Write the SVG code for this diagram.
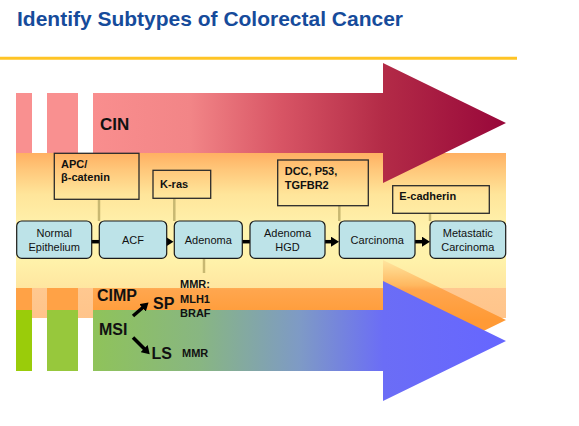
<svg xmlns="http://www.w3.org/2000/svg" width="579" height="426" viewBox="0 0 579 426">
<style>
.t{font-family:"Liberation Sans",Arial,sans-serif;fill:#111}
.b{font-weight:bold}
.box{fill:#BDE3E8;stroke:#1a1a1a;stroke-width:1.2}
.lbl{fill:none;stroke:#2a2a2a;stroke-width:1.3}
.tan{stroke:#C8B872;stroke-width:2.5;fill:none}
.arr{stroke:#000;stroke-width:3.5;fill:none;marker-end:url(#ah)}
.nt{font-size:11px;text-anchor:middle}
.lt{font-size:11px;font-weight:bold}
</style>
<defs>
<marker id="ah" markerWidth="9" markerHeight="10" refX="2" refY="5" orient="auto" markerUnits="userSpaceOnUse"><path d="M0,0 L8,5 L0,10 Z" fill="#000"/></marker>
<linearGradient id="gCin" gradientUnits="userSpaceOnUse" x1="93" y1="0" x2="506" y2="0">
<stop offset="0" stop-color="#F98E8E"/><stop offset="0.235" stop-color="#F28587"/><stop offset="0.453" stop-color="#D85565"/><stop offset="0.702" stop-color="#B32B47"/><stop offset="1" stop-color="#98073A"/>
</linearGradient>
<linearGradient id="gMsi" gradientUnits="userSpaceOnUse" x1="16" y1="0" x2="506" y2="0">
<stop offset="0" stop-color="#9ACC08"/><stop offset="0.157" stop-color="#8FC35A"/><stop offset="0.376" stop-color="#88B682"/><stop offset="0.58" stop-color="#7E9AC6"/><stop offset="0.75" stop-color="#6B6DF6"/><stop offset="1" stop-color="#6666FF"/>
</linearGradient>
<linearGradient id="gBg" gradientUnits="userSpaceOnUse" x1="0" y1="153" x2="0" y2="318">
<stop offset="0" stop-color="#FFB062"/><stop offset="0.1" stop-color="#FFC77A"/><stop offset="0.25" stop-color="#FFE59A"/><stop offset="0.47" stop-color="#FFF3AE"/><stop offset="0.65" stop-color="#FFF2AA"/><stop offset="0.817" stop-color="#FFE6A0"/><stop offset="0.818" stop-color="#FFC890"/><stop offset="1" stop-color="#FFC48A"/>
</linearGradient>
<linearGradient id="gCimp" gradientUnits="userSpaceOnUse" x1="0" y1="260" x2="0" y2="320">
<stop offset="0" stop-color="#FFE6A0"/><stop offset="0.42" stop-color="#FFB860"/><stop offset="0.5" stop-color="#FFA64E"/><stop offset="1" stop-color="#FF9A35"/>
</linearGradient>
</defs>
<rect width="579" height="426" fill="#fff"/>
<text class="t b" x="17" y="26" font-size="21" textLength="386" lengthAdjust="spacingAndGlyphs" style="fill:#164B9B">Identify Subtypes of Colorectal Cancer</text>
<line x1="0" y1="58.3" x2="517" y2="58.3" stroke="#FFC425" stroke-width="3"/>

<g id="background">
<rect x="16" y="153" width="490" height="165" fill="url(#gBg)"/>
</g>
<g id="cin-arrow">
<rect x="16" y="93" width="16" height="60" fill="#F99090"/>
<rect x="47" y="93" width="31" height="60" fill="#F99090"/>
<path d="M93,93 H383 V63 L506,123 L383,183 V153 H93 Z" fill="url(#gCin)"/>
<text class="t b" x="100" y="130" font-size="17">CIN</text>
</g>
<g id="cimp-arrow">
<rect x="16" y="288" width="16" height="62" fill="#FFA246"/>
<rect x="47" y="288" width="31" height="62" fill="#FFA246"/>
<path d="M93,288 H383 V260 L506,320 L383,380 V350 H93 Z" fill="url(#gCimp)"/>
<text class="t b" x="97" y="301" font-size="16">CIMP</text>
</g>
<g id="msi-arrow">
<rect x="16" y="310" width="16" height="61" fill="#9ACC0A"/>
<rect x="47" y="310" width="31" height="61" fill="#97C83C"/>
<path d="M93,310 H383 V281 L506,341 L383,401 V371 H93 Z" fill="url(#gMsi)"/>
<text class="t b" x="99" y="335" font-size="16">MSI</text>
<text class="t b" x="153" y="309" font-size="16">SP</text>
<text class="t b" x="151.5" y="358.5" font-size="16">LS</text>
</g>

<g id="connectors">
<line class="tan" x1="99" y1="199" x2="99" y2="221"/>
<line class="tan" x1="174.3" y1="198" x2="174.3" y2="221"/>
<line class="tan" x1="339.3" y1="205.5" x2="339.3" y2="221"/>
<line class="tan" x1="430" y1="213" x2="430" y2="221"/>
<line class="tan" x1="204" y1="258" x2="204" y2="273"/>
<line class="arr" x1="91" y1="241.7" x2="100.5" y2="241.7"/>
<line class="arr" x1="158.5" y1="241.7" x2="167.5" y2="241.7"/>
<line class="arr" x1="242" y1="241.7" x2="252" y2="241.7"/>
<line class="arr" x1="325" y1="241.7" x2="333" y2="241.7"/>
<line class="arr" x1="415" y1="241.7" x2="424" y2="241.7"/>
<line class="arr" x1="133" y1="316" x2="144" y2="306.5"/>
<line class="arr" x1="133" y1="337.5" x2="145.5" y2="350"/>
</g>

<g id="normal-epithelium">
<rect class="box" x="16.7" y="221" width="75" height="37.3" rx="5"/>
<text class="t nt" x="54.2" y="236.7">Normal</text>
<text class="t nt" x="54.2" y="250.7">Epithelium</text>
</g>
<g id="acf">
<rect class="box" x="99.3" y="221" width="67.4" height="37.3" rx="5"/>
<text class="t nt" x="133" y="243.5">ACF</text>
</g>
<g id="adenoma">
<rect class="box" x="174.3" y="221" width="68" height="37.3" rx="5"/>
<text class="t nt" x="208.3" y="243.5">Adenoma</text>
</g>
<g id="adenoma-hgd">
<rect class="box" x="250" y="221" width="75" height="37.3" rx="5"/>
<text class="t nt" x="287.5" y="236.7">Adenoma</text>
<text class="t nt" x="287.5" y="250.7">HGD</text>
</g>
<g id="carcinoma">
<rect class="box" x="339.3" y="221" width="75.7" height="37.3" rx="5"/>
<text class="t nt" x="377.2" y="243.5">Carcinoma</text>
</g>
<g id="metastatic-carcinoma">
<rect class="box" x="430" y="221" width="75.7" height="37.3" rx="5"/>
<text class="t nt" x="467.8" y="236.7">Metastatic</text>
<text class="t nt" x="467.8" y="250.7">Carcinoma</text>
</g>

<g id="apc">
<rect class="lbl" x="54.3" y="153.3" width="84.7" height="46"/>
<text class="t lt" x="61" y="168">APC/</text>
<text class="t lt" x="61" y="181">β-catenin</text>
</g>
<g id="kras">
<rect class="lbl" x="153" y="170.3" width="57.7" height="28"/>
<text class="t lt" x="160" y="188">K-ras</text>
</g>
<g id="dcc">
<rect class="lbl" x="277.7" y="160" width="90.6" height="45.7"/>
<text class="t lt" x="284.7" y="175">DCC, P53,</text>
<text class="t lt" x="284.7" y="188.5">TGFBR2</text>
</g>
<g id="ecadherin">
<rect class="lbl" x="392.7" y="185.7" width="96.6" height="27.6"/>
<text class="t lt" x="399.3" y="199.5">E-cadherin</text>
</g>
<g id="mmr-labels">
<text class="t lt" x="180" y="288.3">MMR:</text>
<text class="t lt" x="180" y="302.7">MLH1</text>
<text class="t lt" x="180" y="317.3">BRAF</text>
<text class="t lt" x="182" y="357.3">MMR</text>
</g>
</svg>
